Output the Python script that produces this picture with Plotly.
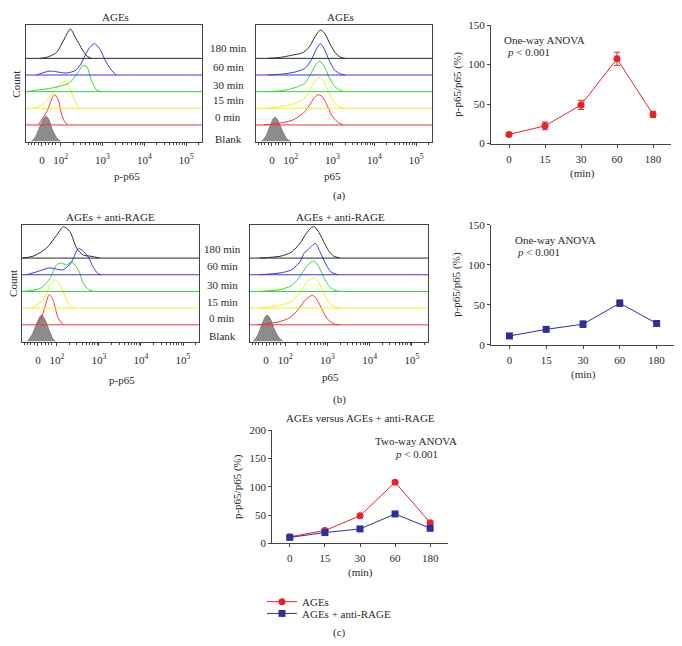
import numpy as np
import plotly.graph_objects as go

W, H = 682, 646
OFF = 8  # page body margin of the html page

# ---- flow histograms: (position on display axis, height above own baseline) ----
# display axis: 10^2 -> 2, 10^3 -> 3, ... ; "0" sits at 1.55
ROW_LABELS = ["Blank", "0 min", "15 min", "30 min", "60 min", "180 min"]
ROW_COLORS = ["#8c8c8c", "#e8383d", "#f2ee2a", "#3fcf3f", "#3a3ad8", "#2a2a2a"]

AGES_PP65 = {
    "Blank": ([1.30, 1.40, 1.50, 1.60, 1.65, 1.72, 1.80, 1.90, 2.00], [0, 5, 15, 24, 26, 22, 12, 4, 0]),
    "0 min": ([1.46, 1.66, 1.74, 1.80, 1.86, 1.94, 2.02, 2.10, 2.17], [0, 13, 21, 28, 31, 26, 11, 3, 0]),
    "15 min": ([1.33, 1.58, 1.78, 1.94, 2.10, 2.21, 2.33, 2.45], [0, 4, 14, 23, 27, 21, 8, 0]),
    "30 min": ([1.20, 1.34, 1.82, 2.21, 2.45, 2.53, 2.63, 2.73, 2.85, 2.97], [0, 1, 4, 9, 22, 27, 25, 12, 2, 0]),
    "60 min": ([1.42, 1.74, 2.13, 2.37, 2.49, 2.69, 2.81, 2.93, 3.09, 3.25, 3.33], [0, 4, 2, 5, 12, 28, 32, 27, 13, 3, 0]),
    "180 min": ([1.50, 1.66, 1.90, 2.10, 2.23, 2.37, 2.49, 2.61, 2.73], [0, 1, 6, 21, 30, 20, 11, 3, 0]),
}
AGES_P65 = {
    "Blank": ([1.30, 1.40, 1.50, 1.58, 1.63, 1.70, 1.80, 1.90, 2.00], [0, 5, 15, 23, 25, 21, 11, 3, 0]),
    "0 min": ([1.35, 1.75, 2.05, 2.30, 2.45, 2.55, 2.65, 2.75, 2.85, 2.98, 3.12, 3.25], [0, 2, 5, 12, 20, 27, 31, 29, 22, 10, 3, 0]),
    "15 min": ([1.40, 1.80, 2.10, 2.35, 2.50, 2.62, 2.72, 2.82, 2.95, 3.08, 3.20, 3.30], [0, 2, 5, 11, 22, 30, 31, 25, 13, 4, 1, 0]),
    "30 min": ([1.40, 1.80, 2.10, 2.35, 2.50, 2.62, 2.70, 2.80, 2.93, 3.06, 3.20, 3.30], [0, 1, 4, 9, 20, 29, 31, 26, 14, 5, 1, 0]),
    "60 min": ([1.45, 1.80, 2.10, 2.35, 2.50, 2.62, 2.71, 2.80, 2.92, 3.05, 3.20, 3.30], [0, 1, 3, 7, 16, 27, 32, 27, 15, 5, 1, 0]),
    "180 min": ([1.45, 1.75, 2.00, 2.30, 2.45, 2.58, 2.71, 2.82, 2.95, 3.08, 3.20, 3.30], [0, 1, 3, 6, 12, 22, 29, 25, 14, 5, 1, 0]),
}
RAGE_PP65 = {
    "Blank": ([1.30, 1.40, 1.50, 1.58, 1.64, 1.72, 1.82, 1.90, 1.97], [0, 6, 16, 24, 27, 22, 11, 3, 0]),
    "0 min": ([1.52, 1.64, 1.74, 1.82, 1.91, 2.03, 2.15], [0, 8, 22, 31, 25, 7, 0]),
    "15 min": ([1.40, 1.67, 1.83, 1.98, 2.11, 2.23, 2.35, 2.42], [0, 8, 23, 29, 21, 8, 1, 0]),
    "30 min": ([1.19, 1.60, 1.83, 1.99, 2.11, 2.23, 2.35, 2.51, 2.63, 2.75, 2.86], [0, 3, 13, 27, 29, 27, 30, 22, 8, 2, 0]),
    "60 min": ([1.28, 1.52, 1.83, 2.15, 2.35, 2.51, 2.63, 2.75, 2.86, 2.98, 3.05], [0, 3, 7, 5, 13, 27, 24, 18, 8, 1, 0]),
    "180 min": ([1.18, 1.44, 1.75, 1.99, 2.15, 2.31, 2.47, 2.63, 2.79, 3.02], [0, 2, 10, 23, 32, 27, 10, 3, 2, 0]),
}
RAGE_P65 = {
    "Blank": ([1.25, 1.35, 1.45, 1.53, 1.58, 1.65, 1.75, 1.85, 1.95], [0, 6, 17, 25, 27, 23, 12, 4, 0]),
    "0 min": ([1.35, 1.85, 2.10, 2.30, 2.45, 2.55, 2.65, 2.75, 2.88, 3.00, 3.15, 3.30], [0, 3, 7, 15, 24, 28, 30, 26, 15, 6, 1, 0]),
    "15 min": ([1.40, 1.90, 2.15, 2.35, 2.50, 2.62, 2.70, 2.80, 2.92, 3.05, 3.20, 3.30], [0, 3, 7, 15, 26, 30, 31, 26, 15, 5, 1, 0]),
    "30 min": ([1.40, 1.90, 2.15, 2.35, 2.50, 2.62, 2.69, 2.80, 2.92, 3.05, 3.18, 3.30], [0, 2, 6, 15, 25, 30, 31, 25, 14, 5, 1, 0]),
    "60 min": ([1.40, 1.90, 2.15, 2.35, 2.45, 2.55, 2.65, 2.72, 2.82, 2.95, 3.08, 3.25], [0, 2, 5, 13, 22, 26, 30, 32, 24, 12, 3, 0]),
    "180 min": ([1.40, 1.90, 2.15, 2.35, 2.50, 2.62, 2.69, 2.80, 2.90, 3.02, 3.15, 3.30], [0, 2, 6, 15, 25, 31, 32, 26, 18, 8, 2, 0]),
}

X_RANGE = [1.17, 5.38]
ROW_STEP = 17
TICK_D = [1.55, 2, 3, 4, 5]
TICK_TEXT = ["0", "10<sup>2</sup>", "10<sup>3</sup>", "10<sup>4</sup>", "10<sup>5</sup>"]

# ---- time course ----
TIMES = ["0", "15", "30", "60", "180"]
AGES_MEAN = [11.6, 22.4, 48.9, 107.3, 36.9]
AGES_ERR = [2, 4.8, 5.8, 8.3, 4]
RAGE_MEAN = [11, 19.2, 25.7, 51.9, 26.6]
RAGE_ERR = [2, 2, 4, 4, 3]
C_AGES_MEAN = [11.5, 22.6, 48.7, 108, 36.5]
C_AGES_ERR = [1, 1, 1.5, 3, 2]
C_RAGE_MEAN = [10.4, 19, 25.4, 52, 26.6]
C_RAGE_ERR = [1, 1, 1, 2, 1.5]

RED = "#e3242b"
NAVY = "#2e3192"
FONT = "Liberation Serif"
TXT = "#2a2a2a"


def px_x(a, b):
    return [(a - OFF) / W, (b - OFF) / W]


def px_y(top, bottom):
    return [1 - (bottom - OFF) / H, 1 - (top - OFF) / H]


fig = go.Figure()
annotations = []


def add_text(x, y, text, size=11, angle=0, xanchor="center"):
    annotations.append(dict(x=(x - OFF) / W, y=1 - (y - OFF) / H, xref="paper", yref="paper", text=text,
                            showarrow=False, textangle=angle, xanchor=xanchor, yanchor="middle",
                            font=dict(family=FONT, size=size, color=TXT, weight="normal")))


minor_ticks = [1.22, 1.3, 1.38, 1.46, 1.64, 1.72, 1.8, 1.88]
for n in (2, 3, 4, 5):
    for k in range(2, 10):
        v = n + np.log10(k)
        if v < X_RANGE[1]:
            minor_ticks.append(float(v))

hist_panels = [
    (AGES_PP65, 1, px_x(26, 202), px_y(19.3, 138)),
    (AGES_P65, 2, px_x(256, 432), px_y(19.3, 138)),
    (RAGE_PP65, 4, px_x(22, 199), px_y(222.7, 341.7)),
    (RAGE_P65, 5, px_x(250, 428), px_y(222.7, 341.7)),
]

for data, idx, xd, yd in hist_panels:
    xa = "x" if idx == 1 else f"x{idx}"
    ya = "y" if idx == 1 else f"y{idx}"
    for i, lab in enumerate(ROW_LABELS):
        xs, hs = data[lab]
        base = i * ROW_STEP
        if lab == "Blank":
            fig.add_trace(go.Scatter(x=xs, y=[base + h for h in hs], mode="lines", fill="tozeroy",
                                     fillcolor=ROW_COLORS[i],
                                     line=dict(color="#7a7a7a", width=1, shape="spline", smoothing=0.7),
                                     xaxis=xa, yaxis=ya, showlegend=False, hoverinfo="skip"))
        else:
            # flat baseline across the panel plus the smoothed histogram
            fig.add_trace(go.Scatter(x=X_RANGE, y=[base, base], mode="lines",
                                     line=dict(color=ROW_COLORS[i], width=1),
                                     xaxis=xa, yaxis=ya, showlegend=False, hoverinfo="skip"))
            fig.add_trace(go.Scatter(x=xs, y=[base + h for h in hs], mode="lines",
                                     line=dict(color=ROW_COLORS[i], width=1, shape="spline", smoothing=0.7),
                                     xaxis=xa, yaxis=ya, showlegend=False, hoverinfo="skip"))
    key = "xaxis" if idx == 1 else f"xaxis{idx}"
    ykey = "yaxis" if idx == 1 else f"yaxis{idx}"
    fig.layout[key] = dict(domain=xd, range=X_RANGE, anchor=ya, tickvals=TICK_D, ticktext=TICK_TEXT,
                           ticks="outside", ticklen=3, tickcolor="#444", ticklabelstandoff=5,
                           minor=dict(tickvals=minor_ticks, ticks="outside", ticklen=2, tickcolor="#444"),
                           showline=True, mirror=True, linecolor="#444", linewidth=1,
                           showgrid=False, zeroline=False,
                           tickfont=dict(family=FONT, size=11, color=TXT))
    fig.layout[ykey] = dict(domain=yd, range=[0, 119], anchor=xa, showticklabels=False, ticks="",
                            showline=True, mirror=True, linecolor="#444", linewidth=1,
                            showgrid=False, zeroline=False)

line_panels = [
    (3, px_x(491, 671), px_y(19.3, 140), [0, 150], [0, 50, 100, 150]),
    (6, px_x(491, 675), px_y(222.7, 345), [0, 150], [0, 50, 100, 150]),
    (7, px_x(272.3, 447.7), px_y(432.3, 547.3), [0, 200], [0, 50, 100, 150, 200]),
]
for idx, xd, yd, yr, yt in line_panels:
    fig.layout[f"xaxis{idx}"] = dict(domain=xd, type="category", range=[-0.5, 4.5], anchor=f"y{idx}",
                                     ticks="outside", ticklen=3, tickcolor="#444", showline=True,
                                     linecolor="#444", linewidth=1, showgrid=False, zeroline=False,
                                     ticklabelstandoff=2,
                                     tickfont=dict(family=FONT, size=11, color=TXT))
    fig.layout[f"yaxis{idx}"] = dict(domain=yd, range=yr, tickvals=yt, anchor=f"x{idx}",
                                     ticks="outside", ticklen=3, tickcolor="#444", showline=True,
                                     linecolor="#444", linewidth=1, showgrid=False, zeroline=False,
                                     tickfont=dict(family=FONT, size=11, color=TXT))


def series(x, y, err, color, symbol, xa, ya, name=None, legend=None):
    return go.Scatter(x=x, y=y, mode="lines+markers", name=name, showlegend=legend is not None,
                      legend=legend or "legend",
                      line=dict(color=color, width=1),
                      marker=dict(color=color, symbol=symbol, size=7),
                      error_y=dict(type="data", array=err, color=color, thickness=1, width=3),
                      xaxis=xa, yaxis=ya, cliponaxis=False)


fig.add_trace(series(TIMES, AGES_MEAN, AGES_ERR, RED, "circle", "x3", "y3"))
fig.add_trace(series(TIMES, RAGE_MEAN, RAGE_ERR, NAVY, "square", "x6", "y6"))
fig.add_trace(series(TIMES, C_AGES_MEAN, C_AGES_ERR, RED, "circle", "x7", "y7", "AGEs", "legend"))
fig.add_trace(series(TIMES, C_RAGE_MEAN, C_RAGE_ERR, NAVY, "square", "x7", "y7", "AGEs + anti-RAGE", "legend2"))

# titles and labels
add_text(115, 11, "AGEs")
add_text(340, 11, "AGEs")
add_text(110, 215, "AGEs + anti-RAGE")
add_text(340, 215, "AGEs + anti-RAGE")
add_text(127, 173, "p-p65")
add_text(332, 173, "p65")
add_text(122, 381, "p-p65")
add_text(330, 378, "p65")
add_text(16, 80, "Count", angle=-90)
add_text(13, 283, "Count", angle=-90)
for lab, ya_, yb_ in zip(ROW_LABELS, [135, 113.3, 96, 80.7, 62.3, 42.7], [335.7, 317.3, 301, 284.3, 265, 247.3]):
    add_text(228, ya_, lab)
    add_text(222, yb_, lab)

add_text(458, 80, "p-p65/p65 (%)", angle=-90)
add_text(457, 284, "p-p65/p65 (%)", angle=-90)
add_text(237, 490, "p-p65/p65 (%)", angle=-90)
add_text(582, 171, "(min)")
add_text(583, 375, "(min)")
add_text(360, 577, "(min)")

add_text(502, 35, "One-way ANOVA", xanchor="left")
add_text(505, 47, "<i>p</i> < 0.001", xanchor="left")
add_text(513, 238, "One-way ANOVA", xanchor="left")
add_text(515, 250, "<i>p</i> < 0.001", xanchor="left")
add_text(360, 420, "AGEs versus AGEs + anti-RAGE")
add_text(373, 443, "Two-way ANOVA", xanchor="left")
add_text(393, 456, "<i>p</i> < 0.001", xanchor="left")

add_text(339, 193, "(a)")
add_text(339, 401, "(b)")
add_text(339, 638, "(c)")

legend_style = dict(xanchor="left", yanchor="top", bgcolor="rgba(0,0,0,0)", itemwidth=30,
                    font=dict(family=FONT, size=11, color=TXT))
fig.update_layout(
    width=W, height=H,
    margin=dict(l=0, r=0, t=0, b=0),
    paper_bgcolor="white", plot_bgcolor="white",
    font=dict(family=FONT, size=11, color=TXT),
    annotations=annotations,
    showlegend=True,
    legend=dict(x=(262 - OFF) / W, y=1 - (592 - OFF) / H, **legend_style),
    legend2=dict(x=(262 - OFF) / W, y=1 - (604 - OFF) / H, **legend_style),
)

fig.write_html("out.html")
